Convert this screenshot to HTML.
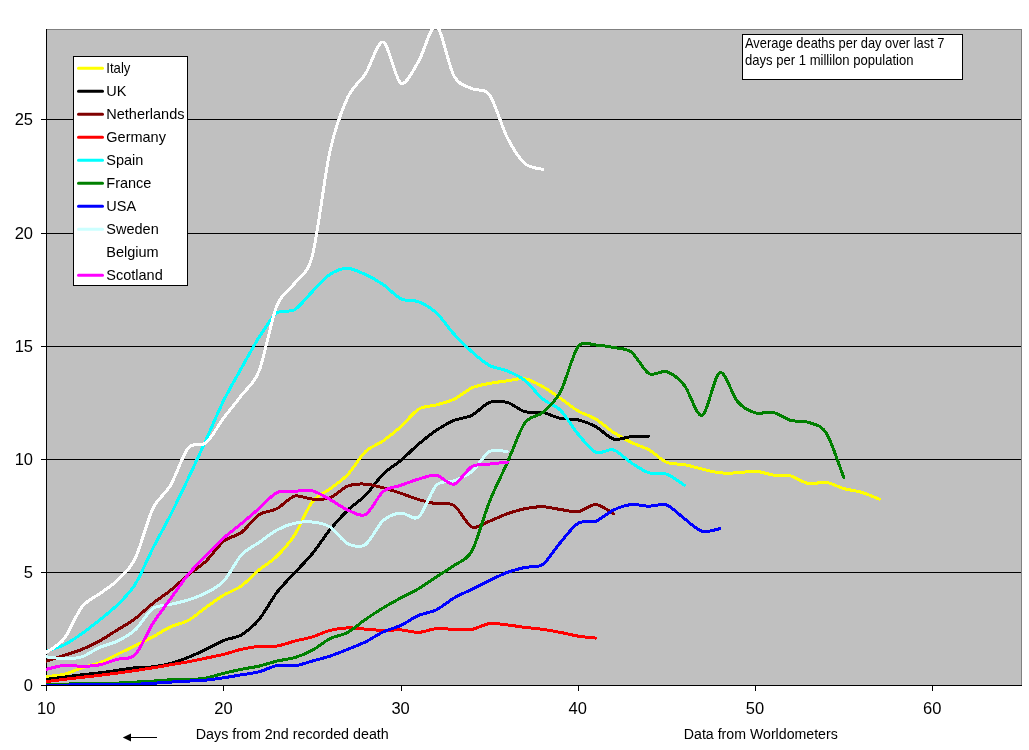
<!DOCTYPE html>
<html><head><meta charset="utf-8"><title>Chart</title>
<style>
html,body{margin:0;padding:0;background:#fff;}
body{width:1029px;height:750px;overflow:hidden;}
svg{display:block;}
text{font-family:"Liberation Sans",sans-serif;fill:#000;}
.ax{font-size:16.5px;}
.lg{font-size:14.5px;}
.sm{font-size:13.9px;}
.bt{font-size:14px;}
</style></head><body>
<svg width="1029" height="750" viewBox="0 0 1029 750">
<defs><clipPath id="pc"><rect x="46" y="29" width="975" height="656"/></clipPath></defs>
<rect x="0" y="0" width="1029" height="750" fill="#fff"/>
<rect x="46" y="29" width="976" height="657" fill="#C0C0C0"/>
<g shape-rendering="crispEdges">
<rect x="47" y="119" width="974" height="1" fill="#000"/>
<rect x="47" y="233" width="974" height="1" fill="#000"/>
<rect x="47" y="346" width="974" height="1" fill="#000"/>
<rect x="47" y="459" width="974" height="1" fill="#000"/>
<rect x="47" y="572" width="974" height="1" fill="#000"/>
<rect x="46" y="29" width="976" height="1" fill="#808080"/>
<rect x="1021" y="29" width="1" height="657" fill="#808080"/>
<rect x="46" y="29" width="1" height="657" fill="#000"/>
<rect x="46" y="685" width="976" height="1" fill="#000"/>
<rect x="41" y="119" width="5" height="1" fill="#000"/>
<rect x="41" y="233" width="5" height="1" fill="#000"/>
<rect x="41" y="346" width="5" height="1" fill="#000"/>
<rect x="41" y="459" width="5" height="1" fill="#000"/>
<rect x="41" y="572" width="5" height="1" fill="#000"/>
<rect x="41" y="685" width="5" height="1" fill="#000"/>
<rect x="46" y="686" width="1" height="5" fill="#000"/>
<rect x="223" y="686" width="1" height="5" fill="#000"/>
<rect x="401" y="686" width="1" height="5" fill="#000"/>
<rect x="578" y="686" width="1" height="5" fill="#000"/>
<rect x="755" y="686" width="1" height="5" fill="#000"/>
<rect x="932" y="686" width="1" height="5" fill="#000"/>
</g>
<g clip-path="url(#pc)" fill="none" stroke-width="3" stroke-linejoin="round" stroke-linecap="round" shape-rendering="crispEdges">
<path d="M46.5 676.6C49.2 676.2 58.9 675.6 64.2 674.3C69.5 673.0 76.6 669.6 81.9 667.8C87.3 666.1 94.3 664.9 99.7 662.8C105.0 660.8 112.1 656.9 117.4 654.3C122.7 651.8 129.8 648.2 135.1 645.6C140.4 643.0 147.5 639.7 152.8 636.9C158.1 634.1 165.2 629.3 170.5 626.9C175.9 624.4 182.9 623.3 188.3 620.4C193.6 617.5 200.7 611.2 206.0 607.4C211.3 603.6 218.4 598.4 223.7 595.2C229.0 592.0 236.1 589.7 241.4 585.9C246.7 582.1 253.8 574.4 259.1 569.9C264.5 565.5 271.5 561.4 276.9 556.2C282.2 550.9 289.3 543.1 294.6 535.0C299.9 526.8 307.0 508.7 312.3 501.8C317.6 494.9 324.7 492.9 330.0 488.8C335.3 484.7 342.4 480.2 347.7 474.6C353.1 469.1 360.1 456.7 365.5 451.6C370.8 446.5 377.9 444.6 383.2 440.9C388.5 437.1 395.6 431.4 400.9 426.6C406.2 421.9 413.3 412.4 418.6 409.2C423.9 405.9 431.0 406.4 436.3 404.9C441.7 403.4 448.7 401.7 454.1 399.2C459.4 396.6 466.5 390.3 471.8 387.9C477.1 385.6 484.2 384.5 489.5 383.4C494.8 382.4 501.9 381.6 507.2 380.9C512.5 380.2 519.6 377.8 524.9 378.7C530.3 379.5 537.3 383.7 542.7 386.7C548.0 389.6 555.1 394.7 560.4 398.3C565.7 401.9 572.8 407.9 578.1 411.0C583.4 414.1 590.5 415.9 595.8 419.1C601.1 422.4 608.2 428.9 613.5 432.4C618.9 435.9 625.9 439.7 631.3 442.4C636.6 445.0 643.7 446.9 649.0 449.9C654.3 452.9 661.4 460.1 666.7 462.4C672.0 464.6 679.1 463.6 684.4 464.6C689.7 465.6 696.8 467.9 702.1 469.1C707.5 470.3 714.5 472.3 719.9 472.8C725.2 473.4 732.3 473.1 737.6 472.8C742.9 472.6 750.0 470.8 755.3 471.1C760.6 471.4 767.7 474.3 773.0 475.0C778.3 475.8 785.4 474.8 790.7 476.0C796.1 477.3 803.1 482.6 808.5 483.6C813.8 484.5 820.9 481.6 826.2 482.3C831.5 483.1 838.6 487.1 843.9 488.6C849.2 490.1 856.3 490.7 861.6 492.3C866.9 493.9 876.7 498.1 879.3 499.1" stroke="#FFFF00"/>
<path d="M46.5 679.3C49.2 679.0 58.9 677.7 64.2 677.1C69.5 676.4 76.6 675.5 81.9 674.8C87.3 674.2 94.3 673.5 99.7 672.8C105.0 672.2 112.1 671.1 117.4 670.3C122.7 669.6 129.8 668.4 135.1 667.8C140.4 667.3 147.5 667.5 152.8 666.8C158.1 666.2 165.2 665.0 170.5 663.6C175.9 662.2 182.9 659.5 188.3 657.3C193.6 655.2 200.7 651.9 206.0 649.4C211.3 646.8 218.4 642.5 223.7 640.4C229.0 638.2 236.1 638.0 241.4 634.9C246.7 631.7 253.8 625.8 259.1 619.4C264.5 613.0 271.5 599.4 276.9 592.4C282.2 585.4 289.3 578.7 294.6 572.9C299.9 567.1 307.0 560.2 312.3 553.7C317.6 547.2 324.7 536.2 330.0 529.7C335.3 523.2 342.4 515.4 347.7 510.2C353.1 505.1 360.1 500.7 365.5 495.3C370.8 489.9 377.9 479.3 383.2 474.1C388.5 468.8 395.6 464.8 400.9 460.4C406.2 455.9 413.3 448.6 418.6 444.1C423.9 439.6 431.0 433.9 436.3 430.4C441.7 426.8 448.7 422.6 454.1 420.4C459.4 418.1 466.5 418.1 471.8 415.4C477.1 412.7 484.2 404.4 489.5 402.4C494.8 400.5 501.9 401.0 507.2 402.4C512.5 403.8 519.6 410.2 524.9 411.7C530.3 413.1 537.3 411.4 542.7 412.4C548.0 413.4 555.1 417.3 560.4 418.4C565.7 419.5 572.8 418.7 578.1 419.9C583.4 421.1 590.5 423.8 595.8 426.6C601.1 429.5 608.2 437.6 613.5 439.1C618.9 440.6 625.9 437.1 631.3 436.6C636.6 436.2 646.3 436.2 649.0 436.1" stroke="#000000"/>
<path d="M46.5 661.1C49.2 660.2 58.9 657.1 64.2 655.3C69.5 653.6 76.6 651.5 81.9 649.4C87.3 647.2 94.3 643.8 99.7 640.9C105.0 637.9 112.1 633.2 117.4 629.9C122.7 626.6 129.8 622.7 135.1 618.7C140.4 614.7 147.5 607.6 152.8 603.4C158.1 599.2 165.2 594.7 170.5 590.4C175.9 586.1 182.9 579.3 188.3 574.9C193.6 570.5 200.7 566.2 206.0 561.2C211.3 556.1 218.4 545.5 223.7 541.2C229.0 536.9 236.1 536.4 241.4 532.5C246.7 528.5 253.8 518.3 259.1 514.7C264.5 511.2 271.5 511.5 276.9 508.7C282.2 505.9 289.3 497.6 294.6 496.1C299.9 494.7 307.0 498.8 312.3 499.1C317.6 499.3 324.7 499.8 330.0 497.8C335.3 495.9 342.4 488.1 347.7 486.1C353.1 484.0 360.1 483.8 365.5 484.1C370.8 484.3 377.9 486.4 383.2 487.8C388.5 489.2 395.6 491.6 400.9 493.3C406.2 495.1 413.3 498.0 418.6 499.6C423.9 501.1 431.0 502.9 436.3 503.7C441.7 504.6 448.7 502.0 454.1 505.5C459.4 509.0 466.5 524.6 471.8 527.0C477.1 529.3 484.2 523.2 489.5 521.2C494.8 519.2 501.9 515.6 507.2 513.7C512.5 511.9 519.6 509.8 524.9 508.7C530.3 507.7 537.3 506.6 542.7 506.7C548.0 506.9 555.1 508.7 560.4 509.5C565.7 510.2 572.8 512.5 578.1 511.7C583.4 511.0 590.5 504.2 595.8 504.5C601.1 504.8 610.9 512.4 613.5 513.7" stroke="#800000"/>
<path d="M46.5 681.6C49.2 681.2 58.9 680.0 64.2 679.3C69.5 678.7 76.6 677.9 81.9 677.3C87.3 676.7 94.3 676.0 99.7 675.3C105.0 674.7 112.1 673.8 117.4 673.1C122.7 672.4 129.8 671.4 135.1 670.6C140.4 669.8 147.5 668.7 152.8 667.8C158.1 667.0 165.2 665.7 170.5 664.8C175.9 663.9 182.9 662.8 188.3 661.8C193.6 660.8 200.7 659.2 206.0 658.1C211.3 657.0 218.4 655.7 223.7 654.3C229.0 653.0 236.1 650.5 241.4 649.3C246.7 648.2 253.8 646.8 259.1 646.4C264.5 645.9 271.5 646.9 276.9 646.1C282.2 645.3 289.3 642.5 294.6 641.1C299.9 639.7 307.0 638.5 312.3 636.9C317.6 635.3 324.7 631.7 330.0 630.4C335.3 629.0 342.4 628.1 347.7 627.9C353.1 627.7 360.1 628.7 365.5 629.1C370.8 629.5 377.9 630.3 383.2 630.4C388.5 630.5 395.6 629.6 400.9 629.9C406.2 630.2 413.3 632.6 418.6 632.4C423.9 632.2 431.0 629.1 436.3 628.6C441.7 628.2 448.7 629.3 454.1 629.4C459.4 629.5 466.5 630.2 471.8 629.4C477.1 628.5 484.2 624.3 489.5 623.6C494.8 623.0 501.9 624.3 507.2 624.9C512.5 625.4 519.6 626.7 524.9 627.4C530.3 628.0 537.3 628.6 542.7 629.4C548.0 630.1 555.1 631.4 560.4 632.4C565.7 633.4 572.8 635.3 578.1 636.1C583.4 637.0 593.2 637.8 595.8 638.1" stroke="#FF0000"/>
<path d="M46.5 651.1C49.2 650.2 58.9 647.5 64.2 644.9C69.5 642.2 76.6 637.4 81.9 633.6C87.3 629.9 94.3 624.2 99.7 619.9C105.0 615.6 112.1 610.2 117.4 604.9C122.7 599.6 129.8 593.0 135.1 584.5C140.4 576.0 147.5 558.9 152.8 548.5C158.1 538.1 165.2 525.5 170.5 515.0C175.9 504.5 182.9 489.6 188.3 478.3C193.6 467.1 200.7 451.6 206.0 439.9C211.3 428.2 218.4 411.2 223.7 400.4C229.0 389.7 236.1 377.7 241.4 368.2C246.7 358.7 253.8 345.5 259.1 337.2C264.5 328.9 271.5 317.1 276.9 313.0C282.2 308.9 289.3 313.0 294.6 309.8C299.9 306.6 307.0 296.9 312.3 291.6C317.6 286.3 324.7 277.8 330.0 274.4C335.3 270.9 342.4 268.3 347.7 268.4C353.1 268.4 360.1 272.2 365.5 274.6C370.8 277.0 377.9 281.0 383.2 284.6C388.5 288.2 395.6 296.2 400.9 298.8C406.2 301.4 413.3 299.7 418.6 301.8C423.9 303.9 431.0 308.0 436.3 312.8C441.7 317.7 448.7 328.4 454.1 334.2C459.4 340.1 466.5 347.0 471.8 351.7C477.1 356.4 484.2 362.6 489.5 365.4C494.8 368.3 501.9 368.7 507.2 370.9C512.5 373.2 519.6 376.2 524.9 380.4C530.3 384.6 537.3 394.5 542.7 399.0C548.0 403.5 555.1 404.9 560.4 410.2C565.7 415.5 572.8 427.8 578.1 434.1C583.4 440.4 590.5 449.9 595.8 452.3C601.1 454.7 608.2 448.3 613.5 449.9C618.9 451.4 625.9 459.4 631.3 462.9C636.6 466.3 643.7 471.2 649.0 472.8C654.3 474.5 661.4 472.2 666.7 474.1C672.0 476.0 681.8 483.6 684.4 485.3" stroke="#00FFFF"/>
<path d="M46.5 684.3C49.2 684.3 58.9 684.1 64.2 684.1C69.5 684.0 76.6 683.9 81.9 683.8C87.3 683.7 94.3 683.7 99.7 683.6C105.0 683.5 112.1 683.3 117.4 683.1C122.7 682.8 129.8 682.4 135.1 682.1C140.4 681.8 147.5 681.4 152.8 681.1C158.1 680.7 165.2 680.0 170.5 679.8C175.9 679.6 182.9 679.8 188.3 679.6C193.6 679.3 200.7 679.0 206.0 678.1C211.3 677.1 218.4 674.6 223.7 673.3C229.0 672.0 236.1 670.4 241.4 669.3C246.7 668.2 253.8 667.3 259.1 666.1C264.5 664.8 271.5 662.4 276.9 661.1C282.2 659.8 289.3 659.2 294.6 657.6C299.9 656.0 307.0 653.2 312.3 650.3C317.6 647.5 324.7 641.3 330.0 638.6C335.3 635.9 342.4 635.3 347.7 632.4C353.1 629.5 360.1 623.1 365.5 619.4C370.8 615.7 377.9 611.1 383.2 607.9C388.5 604.7 395.6 600.8 400.9 597.9C406.2 595.0 413.3 591.8 418.6 588.7C423.9 585.5 431.0 580.4 436.3 576.9C441.7 573.4 448.7 569.3 454.1 565.4C459.4 561.6 466.5 560.8 471.8 551.2C477.1 541.6 484.2 514.8 489.5 501.6C494.8 488.3 501.9 474.7 507.2 462.9C512.5 451.0 519.6 430.4 524.9 422.9C530.3 415.3 537.3 417.1 542.7 412.5C548.0 407.9 555.1 401.9 560.4 392.0C565.7 382.1 572.8 353.8 578.1 346.7C583.4 339.7 590.5 344.9 595.8 345.0C601.1 345.1 608.2 346.4 613.5 347.5C618.9 348.5 625.9 348.1 631.3 352.0C636.6 355.9 643.7 370.7 649.0 373.7C654.3 376.6 661.4 369.9 666.7 371.7C672.0 373.5 679.1 378.9 684.4 385.4C689.7 392.0 696.8 417.3 702.1 415.4C707.5 413.4 714.5 374.5 719.9 372.4C725.2 370.4 732.3 395.6 737.6 401.7C742.9 407.7 750.0 411.3 755.3 412.9C760.6 414.5 767.7 411.3 773.0 412.4C778.3 413.5 785.4 418.9 790.7 420.4C796.1 421.9 803.1 420.5 808.5 422.4C813.8 424.3 820.9 424.6 826.2 432.9C831.5 441.2 841.2 471.1 843.9 477.8" stroke="#008000"/>
<path d="M46.5 685.1C49.2 685.1 58.9 685.1 64.2 685.1C69.5 685.0 76.6 684.9 81.9 684.8C87.3 684.8 94.3 684.9 99.7 684.8C105.0 684.8 112.1 684.6 117.4 684.6C122.7 684.5 129.8 684.5 135.1 684.3C140.4 684.1 147.5 683.7 152.8 683.3C158.1 683.0 165.2 682.4 170.5 682.1C175.9 681.7 182.9 681.4 188.3 681.1C193.6 680.8 200.7 680.6 206.0 680.1C211.3 679.6 218.4 678.6 223.7 677.8C229.0 677.0 236.1 675.7 241.4 674.8C246.7 673.9 253.8 673.2 259.1 671.8C264.5 670.4 271.5 666.5 276.9 665.6C282.2 664.7 289.3 666.5 294.6 665.8C299.9 665.2 307.0 662.6 312.3 661.1C317.6 659.6 324.7 657.9 330.0 656.1C335.3 654.3 342.4 651.5 347.7 649.4C353.1 647.2 360.1 644.5 365.5 641.9C370.8 639.2 377.9 634.3 383.2 631.9C388.5 629.4 395.6 627.8 400.9 625.4C406.2 622.9 413.3 617.7 418.6 615.4C423.9 613.1 431.0 612.5 436.3 609.9C441.7 607.3 448.7 601.0 454.1 597.9C459.4 594.8 466.5 592.0 471.8 589.4C477.1 586.8 484.2 583.0 489.5 580.4C494.8 577.9 501.9 574.4 507.2 572.4C512.5 570.5 519.6 568.6 524.9 567.4C530.3 566.2 537.3 568.2 542.7 564.4C548.0 560.7 555.1 548.6 560.4 542.5C565.7 536.3 572.8 526.4 578.1 523.2C583.4 520.0 590.5 523.2 595.8 521.2C601.1 519.2 608.2 512.5 613.5 510.0C618.9 507.5 625.9 505.1 631.3 504.5C636.6 503.9 643.7 506.2 649.0 506.2C654.3 506.3 661.4 503.1 666.7 505.0C672.0 506.9 679.1 514.8 684.4 518.7C689.7 522.7 696.8 529.7 702.1 531.2C707.5 532.7 717.2 529.1 719.9 528.7" stroke="#0000FF"/>
<path d="M46.5 656.8C49.2 657.1 58.9 658.6 64.2 658.6C69.5 658.6 76.6 658.5 81.9 656.8C87.3 655.2 94.3 649.7 99.7 647.4C105.0 645.0 112.1 643.7 117.4 641.1C122.7 638.5 129.8 634.7 135.1 629.9C140.4 625.0 147.5 612.5 152.8 608.6C158.1 604.8 165.2 605.7 170.5 604.4C175.9 603.1 182.9 601.6 188.3 599.9C193.6 598.2 200.7 595.7 206.0 592.9C211.3 590.1 218.4 586.9 223.7 581.2C229.0 575.5 236.1 560.8 241.4 554.9C246.7 549.1 253.8 546.2 259.1 542.5C264.5 538.7 271.5 532.9 276.9 530.0C282.2 527.1 289.3 524.4 294.6 523.2C299.9 522.0 307.0 521.4 312.3 522.0C317.6 522.5 324.7 523.7 330.0 527.0C335.3 530.2 342.4 541.1 347.7 543.7C353.1 546.3 360.1 547.9 365.5 544.5C370.8 541.0 377.9 525.2 383.2 520.5C388.5 515.8 395.6 513.5 400.9 513.0C406.2 512.5 413.3 521.1 418.6 517.0C423.9 512.8 431.0 490.8 436.3 485.3C441.7 479.9 448.7 482.9 454.1 480.8C459.4 478.8 466.5 476.0 471.8 471.6C477.1 467.2 484.2 454.6 489.5 451.6C494.8 448.6 504.6 451.6 507.2 451.6" stroke="#CCFFFF"/>
<path d="M46.5 652.3C49.2 650.3 58.9 645.4 64.2 638.6C69.5 631.8 76.6 613.6 81.9 606.9C87.3 600.1 94.3 597.6 99.7 593.7C105.0 589.7 112.1 585.7 117.4 580.4C122.7 575.2 129.8 569.4 135.1 558.7C140.4 547.9 147.5 519.7 152.8 508.7C158.1 497.7 165.2 494.5 170.5 485.3C175.9 476.2 182.9 454.2 188.3 447.9C193.6 441.5 200.7 447.4 206.0 442.9C211.3 438.4 218.4 425.0 223.7 417.9C229.0 410.8 236.1 402.5 241.4 395.4C246.7 388.4 253.8 384.4 259.1 370.9C264.5 357.5 271.5 318.6 276.9 305.5C282.2 292.4 289.3 290.8 294.6 283.3C299.9 275.9 307.0 275.7 312.3 255.9C317.6 236.0 324.7 174.7 330.0 151.0C335.3 127.2 342.4 109.0 347.7 97.4C353.1 85.8 360.1 82.0 365.5 73.7C370.8 65.4 377.9 40.5 383.2 42.0C388.5 43.4 395.6 80.4 400.9 83.2C406.2 86.1 413.3 69.8 418.6 61.2C423.9 52.6 431.0 23.8 436.3 26.0C441.7 28.2 448.7 66.8 454.1 76.2C459.4 85.6 466.5 85.9 471.8 88.7C477.1 91.5 484.2 87.6 489.5 94.9C494.8 102.2 501.9 127.1 507.2 137.4C512.5 147.7 519.6 158.8 524.9 163.6C530.3 168.4 540.0 168.5 542.7 169.4" stroke="#FFFFFF"/>
<path d="M46.5 669.3C49.2 668.7 58.9 665.8 64.2 665.3C69.5 664.9 76.6 666.4 81.9 666.3C87.3 666.3 94.3 665.9 99.7 664.8C105.0 663.8 112.1 660.8 117.4 659.3C122.7 657.8 129.8 660.2 135.1 654.8C140.4 649.5 147.5 632.0 152.8 623.6C158.1 615.2 165.2 606.3 170.5 598.9C175.9 591.5 182.9 580.9 188.3 574.4C193.6 567.9 200.7 560.9 206.0 555.4C211.3 550.0 218.4 542.7 223.7 538.0C229.0 533.2 236.1 528.0 241.4 523.6C246.7 519.2 253.8 513.1 259.1 508.5C264.5 503.9 271.5 495.2 276.9 492.6C282.2 490.0 289.3 491.6 294.6 491.3C299.9 491.0 307.0 489.6 312.3 490.8C317.6 492.0 324.7 496.6 330.0 499.5C335.3 502.4 342.4 507.8 347.7 510.0C353.1 512.2 360.1 517.2 365.5 514.5C370.8 511.7 377.9 495.9 383.2 491.6C388.5 487.2 395.6 487.2 400.9 485.3C406.2 483.5 413.3 480.6 418.6 479.1C423.9 477.6 431.0 474.6 436.3 475.3C441.7 476.1 448.7 485.4 454.1 484.1C459.4 482.8 466.5 469.6 471.8 466.6C477.1 463.6 484.2 464.8 489.5 464.1C494.8 463.4 504.6 462.4 507.2 462.1" stroke="#FF00FF"/>
</g>
<text class="ax" x="33" y="691.2" text-anchor="end">0</text>
<text class="ax" x="33" y="578.2" text-anchor="end">5</text>
<text class="ax" x="33" y="465.2" text-anchor="end">10</text>
<text class="ax" x="33" y="352.2" text-anchor="end">15</text>
<text class="ax" x="33" y="239.2" text-anchor="end">20</text>
<text class="ax" x="33" y="125.2" text-anchor="end">25</text>
<text class="ax" x="46.2" y="714" text-anchor="middle">10</text>
<text class="ax" x="223.4" y="714" text-anchor="middle">20</text>
<text class="ax" x="400.6" y="714" text-anchor="middle">30</text>
<text class="ax" x="577.8" y="714" text-anchor="middle">40</text>
<text class="ax" x="755.0" y="714" text-anchor="middle">50</text>
<text class="ax" x="932.2" y="714" text-anchor="middle">60</text>
<rect x="73.5" y="56.5" width="114" height="229" fill="#fff" stroke="#000" stroke-width="1"/>
<line x1="78.5" y1="68.3" x2="102.5" y2="68.3" stroke="#FFFF00" stroke-width="3" stroke-linecap="round"/>
<text class="lg" x="106.3" y="73.2" textLength="24.1" lengthAdjust="spacingAndGlyphs">Italy</text>
<line x1="78.5" y1="91.3" x2="102.5" y2="91.3" stroke="#000000" stroke-width="3" stroke-linecap="round"/>
<text class="lg" x="106.3" y="96.2">UK</text>
<line x1="78.5" y1="114.3" x2="102.5" y2="114.3" stroke="#800000" stroke-width="3" stroke-linecap="round"/>
<text class="lg" x="106.3" y="119.2">Netherlands</text>
<line x1="78.5" y1="137.3" x2="102.5" y2="137.3" stroke="#FF0000" stroke-width="3" stroke-linecap="round"/>
<text class="lg" x="106.3" y="142.2">Germany</text>
<line x1="78.5" y1="160.3" x2="102.5" y2="160.3" stroke="#00FFFF" stroke-width="3" stroke-linecap="round"/>
<text class="lg" x="106.3" y="165.2">Spain</text>
<line x1="78.5" y1="183.3" x2="102.5" y2="183.3" stroke="#008000" stroke-width="3" stroke-linecap="round"/>
<text class="lg" x="106.3" y="188.2">France</text>
<line x1="78.5" y1="206.3" x2="102.5" y2="206.3" stroke="#0000FF" stroke-width="3" stroke-linecap="round"/>
<text class="lg" x="106.3" y="211.2">USA</text>
<line x1="78.5" y1="229.3" x2="102.5" y2="229.3" stroke="#CCFFFF" stroke-width="3" stroke-linecap="round"/>
<text class="lg" x="106.3" y="234.2">Sweden</text>
<line x1="78.5" y1="252.3" x2="102.5" y2="252.3" stroke="#FFFFFF" stroke-width="3" stroke-linecap="round"/>
<text class="lg" x="106.3" y="257.2">Belgium</text>
<line x1="78.5" y1="275.3" x2="102.5" y2="275.3" stroke="#FF00FF" stroke-width="3" stroke-linecap="round"/>
<text class="lg" x="106.3" y="280.2">Scotland</text>
<rect x="742.5" y="34.5" width="220" height="45" fill="#fff" stroke="#000" stroke-width="1"/>
<text class="sm" x="745" y="48.3" textLength="199.5" lengthAdjust="spacingAndGlyphs">Average deaths per day over last 7</text>
<text class="sm" x="745" y="65.2" textLength="168.5" lengthAdjust="spacingAndGlyphs">days per 1 millilon population</text>
<text class="bt" x="195.8" y="739" textLength="193" lengthAdjust="spacingAndGlyphs">Days from 2nd recorded death</text>
<text class="bt" x="683.8" y="739" textLength="154" lengthAdjust="spacingAndGlyphs">Data from Worldometers</text>
<g shape-rendering="crispEdges"><rect x="126" y="737" width="31" height="1" fill="#000"/></g>
<path d="M122.8 737.5L131 733.4L131 741.6Z" fill="#000"/>
</svg></body></html>
